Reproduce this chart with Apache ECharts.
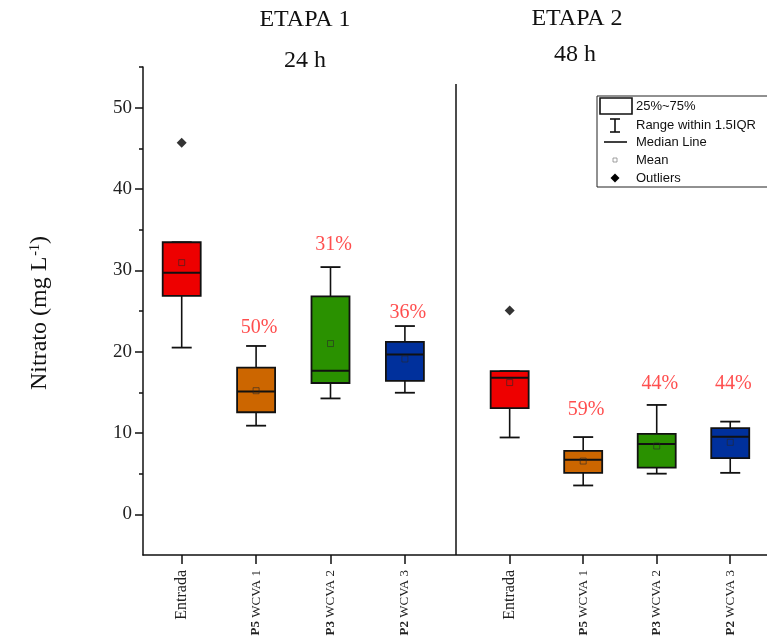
<!DOCTYPE html>
<html><head><meta charset="utf-8">
<script src="https://cdn.jsdelivr.net/npm/echarts@6/dist/echarts.min.js"></script>
<style>html,body{margin:0;padding:0;background:#fff}#c{width:767px;height:642px}</style>
</head><body><div id="c"></div>
<script>
// ---------- data ----------
const categories = ['Entrada', 'P5 WCVA 1', 'P3 WCVA 2', 'P2 WCVA 3'];
// [lower whisker, Q1, median, Q3, upper whisker]
const etapa1Box = [
  [20.5, 26.85, 29.7, 33.45, 33.45],
  [10.9, 12.55, 15.1, 18.05, 20.7],
  [14.25, 16.15, 17.65, 26.8, 30.4],
  [14.95, 16.4, 19.65, 21.2, 23.15]
];
const etapa1Mean = [30.95, 15.2, 21.0, 19.1];
const etapa1Outliers = [[0, 45.7]];
const etapa1Removal = ['', '50%', '31%', '36%'];
const etapa1RemovalY = [null, 22.9, 33.2, 24.8];

const etapa2Box = [
  [9.45, 13.05, 16.8, 17.6, 17.6],
  [3.55, 5.1, 6.7, 7.8, 9.5],
  [5.0, 5.75, 8.65, 9.9, 13.45],
  [5.1, 6.9, 9.55, 10.6, 11.4]
];
const etapa2Mean = [16.2, 6.55, 8.4, 8.85];
const etapa2Outliers = [[0, 25.05]];
const etapa2Removal = ['', '59%', '44%', '44%'];
const etapa2RemovalY = [null, 12.9, 16.0, 16.0];

const yMajorTicks = [0, 10, 20, 30, 40, 50];
const yMinorTicks = [5, 15, 25, 35, 45, 55];
const yMin = -5, yMax = 55;

// ---------- style ----------
const boxColors = ['#EE0000', '#CC6600', '#2A9100', '#00309C'];
const SERIF = 'Liberation Serif', SANS = 'Liberation Sans';
const INK = '#111';

function boxData(box, mean) {
  return box.map((b, i) => [i].concat(b, [mean[i]]));
}
function labelData(txt, ys) {
  const out = [];
  txt.forEach((t, i) => { if (t) out.push([i, ys[i], t]); });
  return out;
}
function renderBox(params, api) {
  const i = api.value(0);
  const p = k => api.coord([i, api.value(k)]);
  const lo = p(1), q1 = p(2), md = p(3), q3 = p(4), hi = p(5), mn = p(6);
  const x = lo[0], hw = 19, cw = 10;
  const ln = (x1, y1, x2, y2, w) => ({ type: 'line', shape: { x1, y1, x2, y2 }, style: { stroke: INK, lineWidth: w } });
  return {
    type: 'group', children: [
      ln(x, hi[1], x, q3[1], 1.6),
      ln(x, lo[1], x, q1[1], 1.6),
      ln(x - cw, hi[1], x + cw, hi[1], 1.8),
      ln(x - cw, lo[1], x + cw, lo[1], 1.8),
      { type: 'rect', shape: { x: x - hw, y: q3[1], width: 2 * hw, height: q1[1] - q3[1] },
        style: { fill: boxColors[i], stroke: INK, lineWidth: 1.8 } },
      ln(x - hw, md[1], x + hw, md[1], 2),
      { type: 'rect', shape: { x: x - 3, y: mn[1] - 3, width: 6, height: 6 },
        style: { fill: 'none', stroke: 'rgba(40,40,40,0.75)', lineWidth: 0.8 } }
    ]
  };
}

function catAxis(gridIndex) {
  return {
    type: 'category', gridIndex, data: categories, boundaryGap: true, position: 'bottom',
    axisLine: { show: false, onZero: false },
    axisTick: { show: true, alignWithLabel: true, length: 9, lineStyle: { color: INK, width: 1.5 } },
    axisLabel: {
      rotate: 90, margin: 15, fontFamily: SERIF, fontSize: 13, color: '#222',
      formatter: v => {
        const m = v.match(/^(P\d)\s(.*)$/);
        return m ? '{b|' + m[1] + '} {r|' + m[2] + '}' : '{e|' + v + '}';
      },
      rich: {
        b: { fontFamily: SERIF, fontWeight: 'bold', fontSize: 13, color: '#222' },
        r: { fontFamily: SERIF, fontSize: 13, color: '#222' },
        e: { fontFamily: SERIF, fontSize: 16, color: '#222' }
      }
    },
    splitLine: { show: false }
  };
}
function hiddenY(gridIndex) {
  return { type: 'value', gridIndex, min: yMin, max: yMax, show: false, splitLine: { show: false } };
}

const chart = echarts.init(document.getElementById('c'), null, { renderer: 'canvas' });
const legendRows = [106, 125, 142, 160, 178];
chart.setOption({
  backgroundColor: '#fff',
  animation: false,
  grid: [
    { left: 143, top: 67, width: 700, height: 488 },
    { left: 144.5, top: 67, width: 297.6, height: 488 },
    { left: 472.9, top: 67, width: 296.8, height: 488 }
  ],
  xAxis: [
    { type: 'value', gridIndex: 0, min: 0, max: 1, axisLine: { show: true, onZero: false, lineStyle: { color: INK, width: 1.5 } },
      axisTick: { show: false }, axisLabel: { show: false }, splitLine: { show: false } },
    catAxis(1),
    catAxis(2)
  ],
  yAxis: [
    { type: 'value', gridIndex: 0, position: 'left', min: yMin, max: yMax,
      axisLine: { show: true, onZero: false, lineStyle: { color: INK, width: 1.5 } },
      axisTick: { show: true, customValues: yMajorTicks, length: 8, lineStyle: { color: INK, width: 1.5 } },
      axisLabel: { customValues: yMajorTicks, margin: 11, fontFamily: SERIF, fontSize: 19, color: '#222' },
      splitLine: { show: false } },
    { type: 'value', gridIndex: 0, position: 'left', min: yMin, max: yMax,
      axisLine: { show: false, onZero: false },
      axisTick: { show: true, customValues: yMinorTicks, length: 4, lineStyle: { color: INK, width: 1.5 } },
      axisLabel: { show: false }, splitLine: { show: false } },
    hiddenY(1),
    hiddenY(2)
  ],
  series: [
    { type: 'custom', xAxisIndex: 1, yAxisIndex: 2, renderItem: renderBox,
      encode: { x: 0, y: [1, 2, 3, 4, 5, 6] }, data: boxData(etapa1Box, etapa1Mean), z: 3 },
    { type: 'custom', xAxisIndex: 2, yAxisIndex: 3, renderItem: renderBox,
      encode: { x: 0, y: [1, 2, 3, 4, 5, 6] }, data: boxData(etapa2Box, etapa2Mean), z: 3 },
    { type: 'scatter', xAxisIndex: 1, yAxisIndex: 2, symbol: 'diamond', symbolSize: 10,
      itemStyle: { color: '#000' }, data: etapa1Outliers, z: 4 },
    { type: 'scatter', xAxisIndex: 2, yAxisIndex: 3, symbol: 'diamond', symbolSize: 10,
      itemStyle: { color: '#000' }, data: etapa2Outliers, z: 4 },
    { type: 'scatter', xAxisIndex: 1, yAxisIndex: 2, symbolSize: 1, itemStyle: { color: 'rgba(0,0,0,0)' },
      label: { show: true, position: 'inside', offset: [3, 0], formatter: p => p.value[2],
        fontFamily: SERIF, fontSize: 20, color: '#FF2222' },
      data: labelData(etapa1Removal, etapa1RemovalY), z: 5 },
    { type: 'scatter', xAxisIndex: 2, yAxisIndex: 3, symbolSize: 1, itemStyle: { color: 'rgba(0,0,0,0)' },
      label: { show: true, position: 'inside', offset: [3, 0], formatter: p => p.value[2],
        fontFamily: SERIF, fontSize: 20, color: '#FF2222' },
      data: labelData(etapa2Removal, etapa2RemovalY), z: 5 }
  ],
  graphic: [
    { type: 'text', x: 305, y: 20, style: { text: 'ETAPA 1', font: '24px "Liberation Serif"', fill: INK, align: 'center', verticalAlign: 'middle' } },
    { type: 'text', x: 305, y: 61, style: { text: '24 h', font: '24px "Liberation Serif"', fill: INK, align: 'center', verticalAlign: 'middle' } },
    { type: 'text', x: 577, y: 19, style: { text: 'ETAPA 2', font: '24px "Liberation Serif"', fill: INK, align: 'center', verticalAlign: 'middle' } },
    { type: 'text', x: 575, y: 55, style: { text: '48 h', font: '24px "Liberation Serif"', fill: INK, align: 'center', verticalAlign: 'middle' } },
    { type: 'text', x: 40, y: 313, rotation: Math.PI / 2,
      style: { text: 'Nitrato (mg L{sup|-1})', font: '24px "Liberation Serif"', fill: INK, align: 'center', verticalAlign: 'middle',
        rich: { sup: { fontFamily: SERIF, fontSize: 14, verticalAlign: 'top', fill: INK, padding: [0, 0, 0, 1] } } } },
    { type: 'line', shape: { x1: 456, y1: 84, x2: 456, y2: 555 }, style: { stroke: INK, lineWidth: 1.5 } },
    // legend
    { type: 'rect', shape: { x: 597, y: 96, width: 200, height: 91 }, style: { fill: '#fff', stroke: '#222', lineWidth: 1 }, z: 10 },
    { type: 'rect', shape: { x: 600, y: 98, width: 32, height: 16 }, style: { fill: 'none', stroke: INK, lineWidth: 1.6 }, z: 11 },
    { type: 'line', shape: { x1: 615, y1: 119, x2: 615, y2: 132 }, style: { stroke: INK, lineWidth: 1.6 }, z: 11 },
    { type: 'line', shape: { x1: 610, y1: 119, x2: 620, y2: 119 }, style: { stroke: INK, lineWidth: 1.6 }, z: 11 },
    { type: 'line', shape: { x1: 610, y1: 132, x2: 620, y2: 132 }, style: { stroke: INK, lineWidth: 1.6 }, z: 11 },
    { type: 'line', shape: { x1: 604, y1: 142, x2: 627, y2: 142 }, style: { stroke: INK, lineWidth: 1.6 }, z: 11 },
    { type: 'rect', shape: { x: 613, y: 158, width: 4, height: 4 }, style: { fill: 'none', stroke: '#888', lineWidth: 0.8 }, z: 11 },
    { type: 'polygon', shape: { points: [[615, 173.5], [619.5, 178], [615, 182.5], [610.5, 178]] }, style: { fill: '#000' }, z: 11 },
    { type: 'text', x: 636, y: legendRows[0], style: { text: '25%~75%', font: '13px "Liberation Sans"', fill: INK, verticalAlign: 'middle' }, z: 11 },
    { type: 'text', x: 636, y: legendRows[1], style: { text: 'Range within 1.5IQR', font: '13px "Liberation Sans"', fill: INK, verticalAlign: 'middle' }, z: 11 },
    { type: 'text', x: 636, y: legendRows[2], style: { text: 'Median Line', font: '13px "Liberation Sans"', fill: INK, verticalAlign: 'middle' }, z: 11 },
    { type: 'text', x: 636, y: legendRows[3], style: { text: 'Mean', font: '13px "Liberation Sans"', fill: INK, verticalAlign: 'middle' }, z: 11 },
    { type: 'text', x: 636, y: legendRows[4], style: { text: 'Outliers', font: '13px "Liberation Sans"', fill: INK, verticalAlign: 'middle' }, z: 11 }
  ]
});
</script>
</body></html>
